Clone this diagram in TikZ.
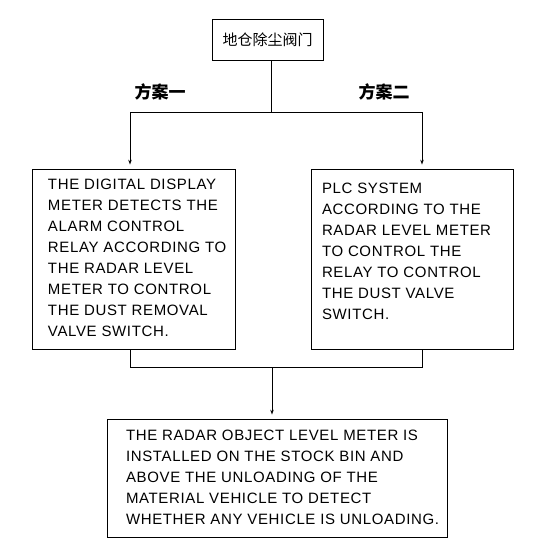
\documentclass[tikz,border=0pt]{standalone}
\usepackage{fontspec}
\setmainfont{Liberation Sans}[LetterSpace=4.3]
\newfontfamily\cjk{Noto Sans CJK SC}
\usetikzlibrary{arrows.meta}
\newcommand\bxt[5]{\makebox[#1][l]{\hspace*{#3}\parbox[c][#2][t]{330pt}{\raggedright\fontsize{15}{21}\selectfont\vspace*{#4}#5}}}
\begin{document}
\begin{tikzpicture}[x=1pt,y=-1pt,line width=0.8pt,
  box/.style={draw, inner sep=0pt},
  lbl/.style={font=\cjk\bfseries\fontsize{17}{19}\selectfont},
  arr/.style={-{Stealth[length=5pt,width=3.5pt]}, shorten >=4pt}]
\useasboundingbox (0,0) rectangle (550,550);
\node[box, minimum width=111pt, minimum height=41pt] (T) at (267.5,39.5) {\cjk\fontsize{15}{17}\selectfont 地仓除尘阀门};
\node[box] (L) at (133.5,259) {\bxt{203pt}{180pt}{16pt}{10pt}{THE DIGITAL DISPLAY\\METER DETECTS THE\\ALARM CONTROL\\RELAY ACCORDING TO\\THE RADAR LEVEL\\METER TO CONTROL\\THE DUST REMOVAL\\VALVE SWITCH.}};
\node[box] (R) at (412,259) {\bxt{202pt}{180pt}{11pt}{14pt}{PLC SYSTEM\\ACCORDING TO THE\\RADAR LEVEL METER\\TO CONTROL THE\\RELAY TO CONTROL\\THE DUST VALVE\\SWITCH.}};
\node[box] (B) at (277,478) {\bxt{340pt}{118pt}{19pt}{11pt}{THE RADAR OBJECT LEVEL METER IS\\INSTALLED ON THE STOCK BIN AND\\ABOVE THE UNLOADING OF THE\\MATERIAL VEHICLE TO DETECT\\WHETHER ANY VEHICLE IS UNLOADING.}};
\node[lbl] (l1) at (160,92) {方案一};
\node[lbl] (l2) at (384,92) {方案二};
\coordinate (jt) at (271,112);
\coordinate (jl) at (130,112);
\coordinate (jr) at (422,112);
\coordinate (bl) at (130,367);
\coordinate (br) at (422,367);
\coordinate (bt) at (272,367);
\draw (T.south -| jt) -- (jt);
\draw (jl) -- (jr);
\draw[arr] (jl) -- (L.north -| jl);
\draw[arr] (jr) -- (R.north -| jr);
\draw (L.south -| bl) -- (bl) -- (br) -- (R.south -| br);
\draw[arr] (bt) -- (B.north -| bt);
\end{tikzpicture}
\end{document}
